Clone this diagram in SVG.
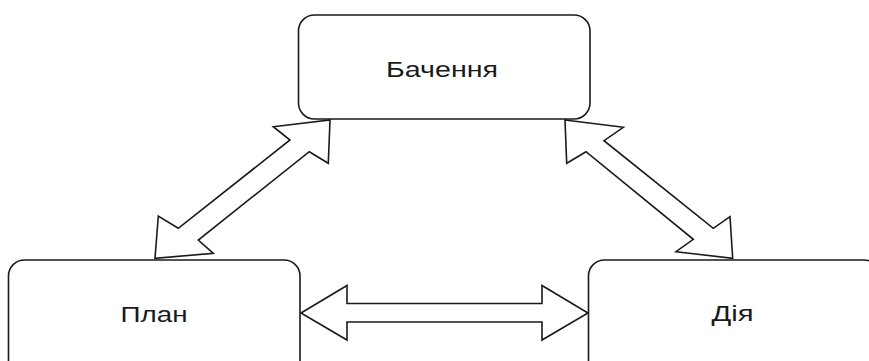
<svg xmlns="http://www.w3.org/2000/svg" width="869" height="361" viewBox="0 0 869 361">
<style>
.box{fill:#fff;stroke:#1a1a1a;stroke-width:1.6}
.arr{fill:#fff;stroke:#1a1a1a;stroke-width:1.6;stroke-linejoin:miter}
.lbl{font-family:"Liberation Sans",Arial,sans-serif;font-size:22px;fill:#1a1a1a}
</style>
<rect width="869" height="361" fill="#fff"/>
<g id="connectors">
<polygon class="arr" points="330,120 328.3,163.3 309.3,151.7 198.3,240 213.3,253.3 155,258.3 158.3,216 178.3,228.3 290,140 273.3,126.7"/>
<polygon class="arr" points="565,120 623.3,127.3 604,140.7 713.3,228.3 730,216.7 732.7,258.3 676,251.7 693.3,239.3 586,151.7 566.7,163.3"/>
<polygon class="arr" points="301,313 347,285.5 347,303.5 542,303.5 542,285.5 588,313 542,340 542,322 347,322 347,340"/>
</g>
<g id="node-bachennia">
<rect class="box" x="298.5" y="15" width="291.5" height="104" rx="16" ry="16"/>
<text class="lbl" x="386" y="76.5" textLength="112" lengthAdjust="spacingAndGlyphs">Бачення</text>
</g>
<g id="node-plan">
<rect class="box" x="8.5" y="260" width="291.5" height="120" rx="16" ry="16"/>
<text class="lbl" x="120.5" y="321.5" textLength="67" lengthAdjust="spacingAndGlyphs">План</text>
</g>
<g id="node-diia">
<rect class="box" x="588.5" y="260" width="291.5" height="120" rx="16" ry="16"/>
<text class="lbl" x="711.5" y="321" textLength="42" lengthAdjust="spacingAndGlyphs">Дія</text>
</g>
</svg>
